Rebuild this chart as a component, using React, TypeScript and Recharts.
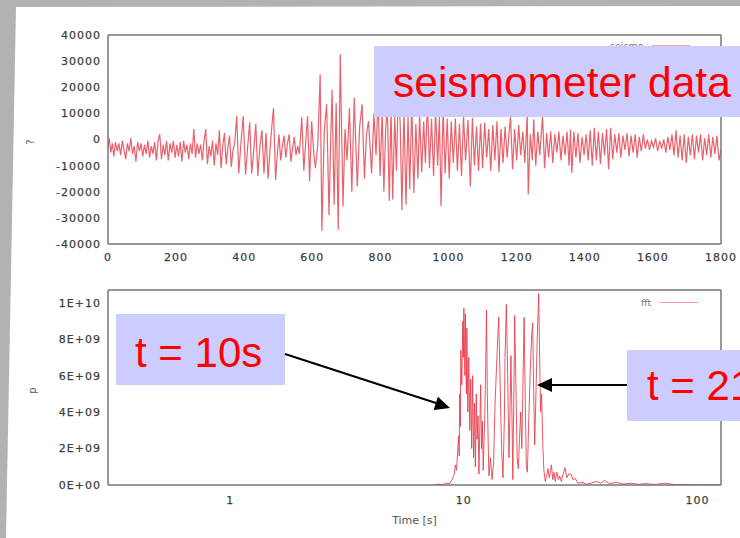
import React from 'react';
import { LineChart, Line, XAxis, YAxis, Legend } from 'recharts';

// tick values
const timeTicks = [0, 200, 400, 600, 800, 1000, 1200, 1400, 1600, 1800];
const countTicks = [-40000, -30000, -20000, -10000, 0, 10000, 20000, 30000, 40000];
const periodTicks = [1, 10, 100];
const periodMinorTicks = [0.4, 0.5, 0.6, 0.7, 0.8, 0.9, 2, 3, 4, 5, 6, 7, 8, 9, 20, 30, 40, 50, 60, 70, 80, 90];
const powerTicks = [0, 2e9, 4e9, 6e9, 8e9, 1e10];

// seismometer trace, [time, counts]
const quietPhase = [
  [0, -3000], [4, 500], [8, -5000], [13, -1500], [17, -6500], [22, -1000], [27, -4500], [32, -1500],
  [37, -6000], [42, -500], [47, -4000], [52, -7500], [57, -1500], [62, -4500], [67, 500], [72, -5500],
  [77, -2500], [82, -8500], [87, -1000], [92, -4500], [97, -1500], [102, -6500], [107, -2000], [112, -5500],
  [117, -500], [122, -7000], [127, -2500], [132, -5500], [137, -1000], [142, -8000], [147, -500], [152, 2000],
  [157, -7500], [162, -2000], [167, -6000], [172, -500], [177, -8000], [182, -1500], [187, -5000], [192, -500],
  [197, -7000], [202, -2000], [207, -6500], [212, -1000], [217, -8500], [222, -500], [227, -5000], [232, -2000],
  [237, -7500], [242, -1500], [247, -5500], [252, 4000], [257, -7000], [262, -1500], [267, -5500], [272, -2000],
  [277, -8000], [282, -500], [287, 4000], [292, -9500], [297, -2500], [302, -6500], [307, -500], [312, -10000],
  [317, -1500], [322, -6000], [327, 3500], [332, -11000], [337, -2500], [342, 2500], [347, -9500], [352, -3000],
  [357, 1500], [362, -10500], [367, -4000], [372, -1500],
];
const pWave = [
  [378, 9000], [384, -13000], [390, -2000], [397, 9000], [404, -13500], [410, -3000], [416, 6500], [422, -13000],
  [428, -4000], [434, 6000], [440, -14000], [446, -2500], [452, 3500], [458, -13000], [464, 2500], [470, -15000],
  [476, -3500], [481, 5000], [486, 12000], [492, -15500], [497, -6000], [502, 2000], [507, -8000], [512, -2500],
  [517, 1500], [522, -7000], [527, -1500], [532, 2000], [537, -8500], [542, -3500], [547, 1000], [552, -6000],
  [557, -2500], [562, -5500], [569, 8500], [575, -12000], [580, -2000], [586, 9000], [592, -16000], [598, 7000],
  [604, -5000], [609, -11000],
];
const sWave = [
  [616, -2000], [623, 25000], [628, -35000], [635, 3000], [642, 13500], [649, -29000], [654, 0], [658, 19000],
  [664, -25000], [670, 14000], [676, -34500], [682, 32600], [690, -25600], [696, 4000], [702, -8000], [709, 12000],
  [716, -20000], [723, 16000], [732, -18000], [739, 5000], [746, 13500], [753, -15000], [759, 2000], [765, 7000],
  [774, -13000], [781, 10000], [787, -6000], [793, 16000], [799, -14000], [805, 11000], [810, -20000], [815, 3000],
  [820, 14000], [826, -23500], [831, 12000], [836, -23000], [842, 9000], [847, -12000], [852, 18000], [858, 6000],
  [863, -27000], [869, 11000], [875, -25000], [881, 9000], [886, -19000], [892, 14000], [898, -20500], [904, 6000],
  [910, -15000], [915, 10000], [921, -12500], [927, 7000], [932, -9000], [938, 15000], [944, -11000], [950, 8000],
  [956, -14000], [962, 11000], [968, -10000], [973, 9000], [978, -25500], [984, 12000], [990, -13000], [996, 8000],
];
const earlyCoda = [
  [1002, -15000], [1008, 7000], [1014, -9000], [1020, 8000], [1026, -12000], [1032, 6000], [1038, -14000], [1044, 9000],
  [1050, -8000], [1057, 7500], [1064, -18000], [1070, 8300], [1076, -10000], [1082, 5000], [1088, -12000], [1094, 6000],
  [1100, -11000], [1106, 6400], [1112, -7000], [1118, 4000], [1124, -12000], [1130, 5500], [1136, -8000], [1142, 7000],
  [1148, -12500], [1154, 4000], [1160, -9000], [1166, 5000], [1172, -7000], [1178, 3000], [1182, 8700], [1188, -11500],
  [1194, 4000], [1200, -8000], [1206, 5500], [1212, -6000], [1218, 3000], [1224, -9000], [1231, 9500], [1234, -21000],
  [1240, 2000], [1246, -8000], [1250, 7700], [1256, -10000], [1262, 3000], [1268, -6000], [1276, 9000], [1282, -11000],
  [1288, 2500], [1294, -7000], [1300, 3000],
];
const lateCoda = [
  [1306, -9000], [1312, 2000], [1318, -5000], [1324, 3000], [1330, -8000], [1336, 1500], [1342, -6000], [1348, 3000],
  [1354, -10000], [1358, 3800], [1362, -12800], [1368, 3000], [1374, -7000], [1380, 2500], [1386, -9000], [1392, 1000],
  [1398, -6000], [1404, 2000], [1410, -8000], [1416, 3500], [1422, -10000], [1428, 4500], [1434, -8000], [1440, 3000],
  [1446, -9500], [1452, 2500], [1458, -6000], [1464, 4000], [1470, -11500], [1476, 4500], [1482, -7500], [1488, 2000],
  [1494, -5000], [1500, 2500], [1506, -7000], [1512, 1500], [1518, -4000], [1524, 2500], [1530, -6500], [1536, 1500],
  [1542, -5000], [1548, 2000], [1554, -7000], [1560, 1000], [1566, -4500], [1572, 2000], [1578, -3500], [1584, 0],
  [1590, -4000], [1596, -500], [1602, -3000], [1608, 500], [1614, -4500], [1620, -500], [1626, -3500], [1632, 0],
  [1638, -5000], [1644, 1000], [1650, -4000], [1656, 2000], [1662, -6000], [1668, 3500], [1674, -7000], [1680, 1500],
  [1686, -8000], [1692, 2000], [1698, -9000], [1704, 1000], [1710, -6000], [1716, 2000], [1722, -7500], [1728, 1500],
  [1734, -5000], [1740, 2000], [1746, -8000], [1752, 500], [1758, -6000], [1764, 2000], [1770, -7000], [1776, 1000],
  [1782, -5500], [1788, 1500], [1794, -8000], [1800, -4000],
];

// fft power, [period s, power]
const fftRise = [
  [7.5, 0], [7.8, 0.05e9], [8.1, 0.02e9], [8.4, 0.1e9], [8.7, 0.08e9], [8.9, 0.3e9], [9.1, 0.6e9], [9.2, 1.1e9],
  [9.3, 0.8e9], [9.4, 1.8e9], [9.5, 2.7e9], [9.55, 1.6e9], [9.6, 5.0e9], [9.65, 3.2e9], [9.7, 7.4e9], [9.8, 5.5e9],
  [9.9, 9.0e9], [9.95, 7.0e9], [10.0, 9.7e9], [10.1, 6.0e9], [10.15, 9.4e9], [10.25, 5.0e9], [10.3, 8.6e9], [10.4, 4.0e9],
  [10.5, 7.0e9], [10.6, 3.0e9], [10.7, 5.8e9], [10.8, 2.0e9], [10.9, 6.0e9], [11.0, 1.5e9], [11.1, 4.5e9], [11.2, 1.0e9],
  [11.3, 5.0e9], [11.4, 2.5e9], [11.5, 3.8e9], [11.6, 0.6e9], [11.8, 5.5e9], [11.9, 2.0e9], [12.0, 3.5e9], [12.1, 0.8e9],
];
const fftBurst = [
  [12.3, 4.0e9], [12.4, 6.5e9], [12.5, 9.6e9], [12.6, 5.0e9], [12.7, 2.5e9], [12.8, 0.5e9], [13.0, 1.5e9], [13.2, 0.3e9],
  [13.4, 1.2e9], [13.6, 4.5e9], [13.8, 6.5e9], [14.0, 8.5e9], [14.1, 9.2e9], [14.3, 5.5e9], [14.5, 2.0e9], [14.7, 0.4e9],
  [14.9, 3.5e9], [15.0, 7.0e9], [15.2, 9.9e9], [15.4, 6.0e9], [15.6, 1.5e9], [15.75, 4.0e9], [15.9, 7.1e9], [16.1, 3.0e9],
  [16.2, 0.3e9], [16.4, 6.0e9], [16.5, 9.3e9], [16.7, 5.5e9], [16.9, 1.5e9], [17.1, 0.9e9], [17.3, 2.5e9], [17.5, 4.0e9],
  [17.7, 2.0e9], [17.9, 5.5e9], [18.1, 9.2e9], [18.3, 5.0e9], [18.5, 1.0e9], [18.7, 0.7e9], [18.9, 3.0e9], [19.2, 6.0e9],
  [19.5, 8.2e9], [19.7, 8.9e9], [19.9, 5.0e9], [20.1, 2.2e9], [20.3, 4.5e9], [20.6, 8.0e9], [20.9, 10.5e9], [21.1, 7.0e9],
  [21.3, 4.0e9], [21.5, 5.0e9], [21.8, 2.0e9], [22.0, 0.8e9],
];
const fftTail = [
  [22.3, 0.2e9], [22.6, 0.5e9], [22.9, 0.9e9], [23.2, 0.4e9], [23.5, 0.8e9], [23.7, 1.1e9], [24.0, 0.3e9], [24.3, 0.7e9],
  [24.6, 0.2e9], [25.0, 0.7e9], [25.4, 0.3e9], [25.7, 0.5e9], [26.1, 0.2e9], [26.6, 0.6e9], [27.1, 0.95e9], [27.6, 0.4e9],
  [28.1, 0.6e9], [28.7, 0.6e9], [29.3, 0.3e9], [30.0, 0.35e9], [30.8, 0.1e9], [32, 0.15e9], [33.5, 0.05e9], [35, 0.1e9],
  [37, 0.2e9], [38.5, 0.1e9], [40, 0.25e9], [42, 0.08e9], [45, 0.15e9], [48, 0.05e9], [52, 0.1e9], [56, 0.03e9],
  [60, 0.08e9], [65, 0.02e9], [72, 0.1e9], [80, 0.02e9], [90, 0.03e9], [100, 0.01e9], [115, 0.02e9], [126, 0.01e9],
];

const seismoData = [...quietPhase, ...pWave, ...sWave, ...earlyCoda, ...lateCoda].map(([t, v]) => ({ t, v }));
const fftData = [...fftRise, ...fftBurst, ...fftTail].map(([t, v]) => ({ t, v }));

const BORDER = '#777';
const tickFont = { fill: '#333', stroke: '#555', strokeWidth: 0.25, fontSize: 11, fontFamily: 'DejaVu Sans', letterSpacing: 1 };
const titleFont = { fill: '#555', fontSize: 10, fontFamily: 'DejaVu Sans' };

const sci = (v: number) => {
  if (v === 0) return '0E+00';
  const e = Math.floor(Math.log10(v) + 1e-9);
  return `${Math.round(v / 10 ** e)}E+${String(e).padStart(2, '0')}`;
};

function Key({ payload }: any) {
  const item = payload?.[0];
  if (!item) return null;
  return (
    <div style={{ display: 'flex', alignItems: 'center', gap: 9, fontFamily: 'DejaVu Sans', fontSize: 9.5, color: '#777' }}>
      <span>{item.value}</span>
      <span style={{ width: 38, borderTop: `1.5px solid ${item.color}`, opacity: 0.5 }} />
    </div>
  );
}

// inward gnuplot-style tick marks on all four sides
function frameX(id: string, side: 'top' | 'bottom', domain: number[], ticks: number[], size: number, log = false, line = false) {
  return (
    <XAxis
      xAxisId={id}
      orientation={side}
      mirror
      type="number"
      scale={log ? 'log' : 'linear'}
      domain={domain}
      allowDataOverflow
      ticks={ticks}
      tick={false}
      tickSize={size}
      height={1}
      stroke={BORDER}
      axisLine={line ? { strokeWidth: 1.5 } : false}
    />
  );
}

function frameY(id: string, side: 'left' | 'right', domain: number[], ticks: number[], line = false) {
  return (
    <YAxis
      yAxisId={id}
      orientation={side}
      mirror
      type="number"
      domain={domain}
      allowDataOverflow
      ticks={ticks}
      tick={false}
      tickSize={4}
      width={1}
      stroke={BORDER}
      axisLine={line ? { strokeWidth: 1.5 } : false}
    />
  );
}

export default function App() {
  return (
    <div style={{ position: 'absolute', left: 0, top: 0, width: 740, height: 538, overflow: 'hidden', background: '#b2b2b2' }}>
      <div
        style={{
          position: 'absolute',
          inset: 0,
          background: '#fff',
          clipPath: 'polygon(16px 7px, 740px 6px, 740px 538px, 6px 538px)',
        }}
      />

      <div style={{ position: 'absolute', left: 0, top: 0 }}>
        <LineChart width={740} height={270} margin={{ top: 35, right: 19, bottom: 6, left: 48 }}>
          <XAxis
            xAxisId="t"
            dataKey="t"
            type="number"
            domain={[0, 1800]}
            allowDataOverflow
            ticks={timeTicks}
            height={20}
            tickSize={0}
            tickMargin={9}
            tickLine={false}
            stroke={BORDER}
            axisLine={{ strokeWidth: 1.5 }}
            tick={tickFont}
          />
          {frameX('tb', 'bottom', [0, 1800], timeTicks, 4)}
          {frameX('tt', 'top', [0, 1800], timeTicks, 4, false, true)}
          <YAxis
            yAxisId="v"
            type="number"
            domain={[-40000, 40000]}
            allowDataOverflow
            ticks={countTicks}
            width={60}
            tickSize={0}
            tickMargin={7}
            tickLine={false}
            stroke={BORDER}
            axisLine={{ strokeWidth: 1.5 }}
            tick={tickFont}
            label={{ value: '?', angle: -90, position: 'left', offset: 18, ...titleFont }}
          />
          {frameY('vl', 'left', [-40000, 40000], countTicks)}
          {frameY('vr', 'right', [-40000, 40000], countTicks, true)}
          <Legend
            layout="horizontal"
            verticalAlign="middle"
            align="center"
            content={Key}
            wrapperStyle={{ left: 610, top: 40, width: 110 }}
          />
          <Line
            xAxisId="t"
            yAxisId="v"
            data={seismoData}
            dataKey="v"
            name="seismo"
            stroke="#e8505c"
            strokeOpacity={0.9}
            strokeWidth={1.2}
            dot={false}
            isAnimationActive={false}
          />
        </LineChart>
      </div>

      <div style={{ position: 'absolute', left: 0, top: 270 }}>
        <LineChart width={740} height={268} margin={{ top: 20, right: 19, bottom: 13, left: 48 }}>
          <XAxis
            xAxisId="p"
            dataKey="t"
            type="number"
            scale="log"
            domain={[0.3, 126]}
            allowDataOverflow
            ticks={periodTicks}
            height={40}
            tickSize={0}
            tickMargin={11}
            tickLine={false}
            stroke={BORDER}
            axisLine={{ strokeWidth: 1.5 }}
            tick={tickFont}
            label={{ value: 'Time [s]', position: 'insideBottom', offset: 1, ...titleFont, fontSize: 11 }}
          />
          {frameX('pb', 'bottom', [0.3, 126], periodTicks, 5, true)}
          {frameX('pbm', 'bottom', [0.3, 126], periodMinorTicks, 3, true)}
          {frameX('pt', 'top', [0.3, 126], periodTicks, 5, true, true)}
          {frameX('ptm', 'top', [0.3, 126], periodMinorTicks, 3, true)}
          <YAxis
            yAxisId="w"
            type="number"
            domain={[0, 1.07e10]}
            allowDataOverflow
            ticks={powerTicks}
            tickFormatter={sci}
            width={60}
            tickSize={0}
            tickMargin={7}
            tickLine={false}
            stroke={BORDER}
            axisLine={{ strokeWidth: 1.5 }}
            tick={tickFont}
            label={{ value: 'p', angle: -90, position: 'left', offset: 16, ...titleFont }}
          />
          {frameY('wl', 'left', [0, 1.07e10], powerTicks)}
          {frameY('wr', 'right', [0, 1.07e10], powerTicks, true)}
          <Legend
            layout="horizontal"
            verticalAlign="middle"
            align="center"
            content={Key}
            wrapperStyle={{ left: 641, top: 27, width: 80 }}
          />
          <Line
            xAxisId="p"
            yAxisId="w"
            data={fftData}
            dataKey="v"
            name="fft"
            stroke="#e83848"
            strokeOpacity={0.85}
            strokeWidth={1}
            dot={false}
            isAnimationActive={false}
          />
        </LineChart>
      </div>

      <svg width={740} height={538} style={{ position: 'absolute', left: 0, top: 0 }}>
        <g fontFamily="'Liberation Sans', Arial, sans-serif" fill="#ff0000">
          <rect x={374} y={46} width={380} height={71} fill="#ccccff" />
          <text x={393} y={97} fontSize={42.5}>seismometer data</text>
          <rect x={116} y={314} width={169} height={71} fill="#ccccff" />
          <text x={135} y={367} fontSize={42}>t = 10s</text>
          <rect x={627} y={350} width={130} height={71} fill="#ccccff" />
          <text x={647} y={400} fontSize={42}>t = 21s</text>
        </g>
        <line x1={285} y1={354} x2={436} y2={403} stroke="#000" strokeWidth={2} />
        <polygon points="450,408 433.6,410 437.9,396.7" fill="#000" />
        <line x1={627} y1={385} x2={551} y2={385} stroke="#000" strokeWidth={2} />
        <polygon points="537,385 552,378 552,392" fill="#000" />
      </svg>
    </div>
  );
}
